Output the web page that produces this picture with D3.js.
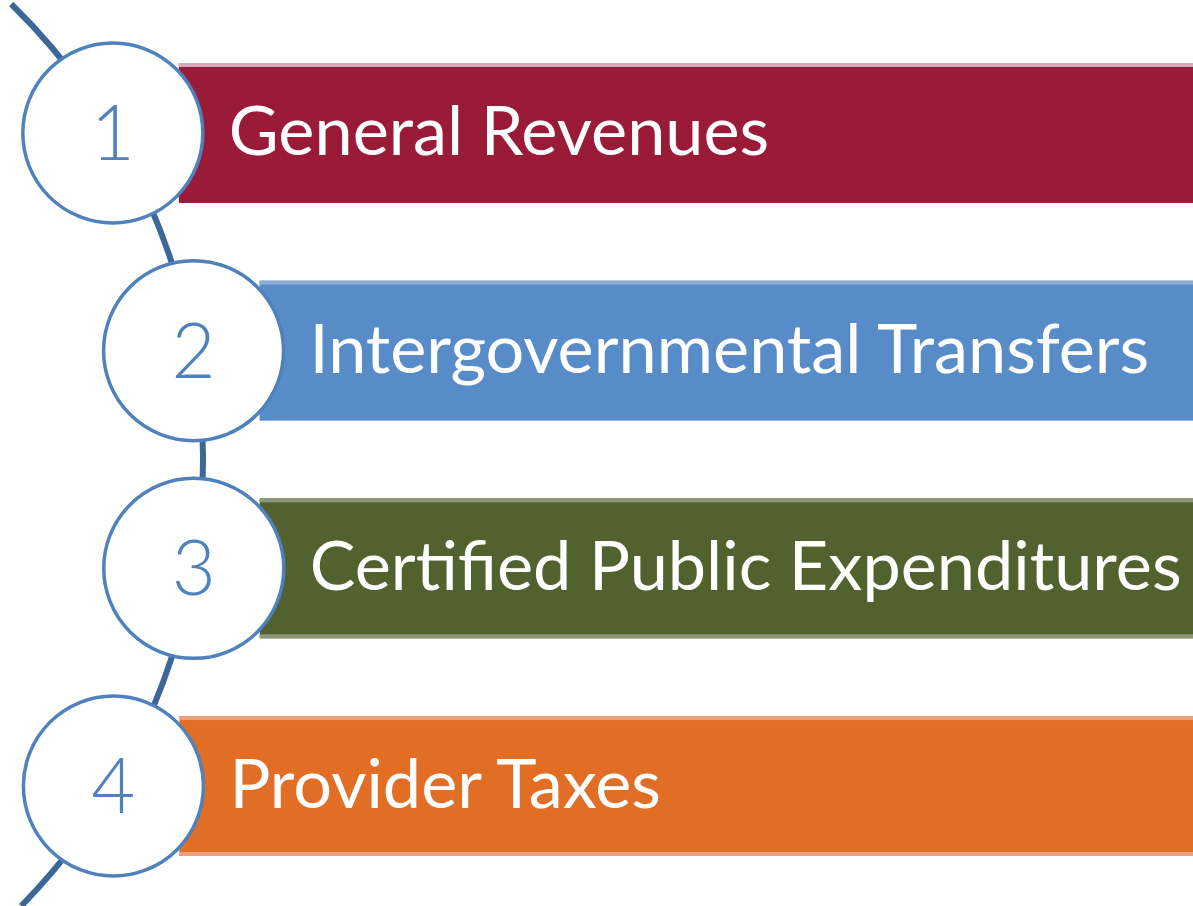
<!DOCTYPE html>
<html>
<head>
<meta charset="utf-8">
<script src="https://cdn.jsdelivr.net/npm/d3@7"></script>
<style>
  html, body { margin: 0; padding: 0; background: #fff; }
  svg { display: block; }
</style>
</head>
<body>
<div class="chart"></div>
<script>
// data
var steps = [1, 2, 3, 4];
var labels = ["General Revenues", "Intergovernmental Transfers", "Certified Public Expenditures", "Provider Taxes"];
var barColors = ["#9a1b37", "#588cc8", "#52622e", "#e26d25"];
var edgeColors = ["#d4aab3", "#8eaed6", "#8e9878", "#eda080"];

var width = 1193, height = 906;

var svg = d3.select(".chart").append("svg")
    .attr("width", width)
    .attr("height", height);

// vertical placement of the four bands
var y = d3.scaleBand()
    .domain(steps)
    .range([63, 856])
    .paddingInner(0.357)
    .paddingOuter(0);

// big arc that the circles sit on
var arcCx = -435, arcCy = 460, arcR = 638;
function arcX(yy) {
  return arcCx + Math.sqrt(arcR * arcR - (yy - arcCy) * (yy - arcCy));
}
var circleR = 90;

function cy(d) { return y(d) + y.bandwidth() / 2; }
function cx(d) { return arcX(cy(d)); }

// bars
var bars = svg.selectAll("g.bar")
    .data(steps)
  .enter().append("g")
    .attr("class", "bar");

bars.append("rect")
    .attr("x", function(d) { return cx(d) + 66; })
    .attr("y", function(d) { return y(d); })
    .attr("width", function(d) { return width - cx(d) - 66; })
    .attr("height", y.bandwidth())
    .style("fill", function(d, i) { return barColors[i]; });

// light rim at top of each bar (and bottom on the lower two)
bars.append("rect")
    .attr("x", function(d) { return cx(d) + 66; })
    .attr("y", function(d) { return y(d); })
    .attr("width", function(d) { return width - cx(d) - 66; })
    .attr("height", 4)
    .style("fill", function(d, i) { return edgeColors[i]; });

bars.filter(function(d) { return d > 2; }).append("rect")
    .attr("x", function(d) { return cx(d) + 66; })
    .attr("y", function(d) { return y(d) + y.bandwidth() - 4; })
    .attr("width", function(d) { return width - cx(d) - 66; })
    .attr("height", 4)
    .style("fill", function(d, i) { return edgeColors[d - 1]; });

// connecting arc
var a0 = Math.atan2(4 - arcCy, arcX(4) - arcCx);
var a1 = Math.atan2(906 - arcCy, arcX(906) - arcCx);
var p = d3.path();
p.arc(arcCx, arcCy, arcR, a0, a1);
svg.append("path")
    .attr("d", p.toString())
    .style("fill", "none")
    .style("stroke", "#3c6897")
    .style("stroke-width", 6);

// circles
svg.selectAll("circle.step")
    .data(steps)
  .enter().append("circle")
    .attr("class", "step")
    .attr("cx", cx)
    .attr("cy", cy)
    .attr("r", circleR)
    .style("fill", "#fff")
    .style("stroke", "#4f81bd")
    .style("stroke-width", 3.5);

svg.selectAll("text.num")
    .data(steps)
  .enter().append("text")
    .attr("class", "num")
    .attr("x", cx)
    .attr("y", function(d) { return cy(d) + 27; })
    .attr("text-anchor", "middle")
    .style("font-family", "Lato, 'Open Sans', sans-serif")
    .style("font-weight", 300)
    .style("font-size", "76px")
    .style("fill", "#4f81bd")
    .text(function(d) { return d; });

// labels
var lab = svg.selectAll("text.label")
    .data(steps)
  .enter().append("text")
    .attr("class", "label")
    .attr("x", function(d) { return cx(d) + 116; })
    .attr("y", function(d) { return cy(d) + 22; })
    .style("font-family", "Lato, 'Open Sans', sans-serif")
    .style("font-size", "60px")
    .style("fill", "#fff")
    .text(function(d, i) { return labels[i]; });

// fit font size so the longest label spans like the original
var longest = d3.max(lab.nodes(), function(n) { return n.getComputedTextLength(); });
var fs = 60 * 872 / longest;
lab.style("font-size", fs + "px");
</script>
</body>
</html>
